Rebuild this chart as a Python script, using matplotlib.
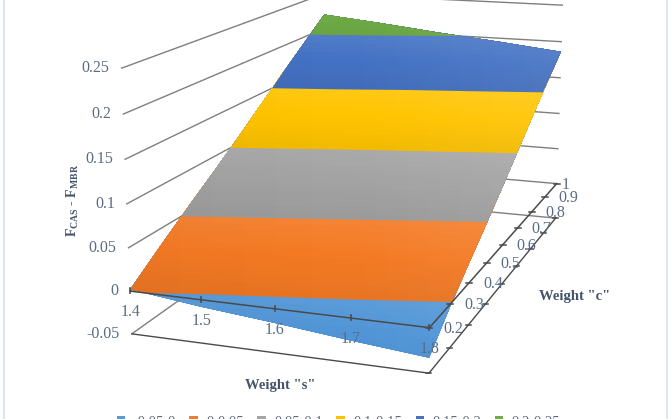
import numpy as np
import matplotlib
matplotlib.use("Agg")
import matplotlib.pyplot as plt
from matplotlib.colors import to_rgb
from matplotlib.patches import Patch, Polygon

# ---- data ----
weight_s = [1.4, 1.5, 1.6, 1.7, 1.8]
weight_c = [0.2, 0.3, 0.4, 0.5, 0.6, 0.7, 0.8, 0.9, 1.0]
z_ticks = [-0.05, 0, 0.05, 0.1, 0.15, 0.2, 0.25]
z_labels = ["-0.05", "0", "0.05", "0.1", "0.15", "0.2", "0.25"]
s_labels = ["1.4", "1.5", "1.6", "1.7", "1.8"]
c_labels = ["0.2", "0.3", "0.4", "0.5", "0.6", "0.7", "0.8", "0.9", "1"]
# rows: weight_c, columns: weight_s
f_diff = [
    [0.002, -0.008, -0.016, -0.025, -0.033],
    [0.030, 0.022, 0.014, 0.006, -0.003],
    [0.057, 0.049, 0.040, 0.032, 0.024],
    [0.083, 0.075, 0.067, 0.058, 0.050],
    [0.110, 0.102, 0.093, 0.085, 0.077],
    [0.138, 0.130, 0.121, 0.113, 0.105],
    [0.166, 0.158, 0.149, 0.141, 0.133],
    [0.193, 0.185, 0.176, 0.168, 0.160],
    [0.220, 0.212, 0.203, 0.195, 0.186],
]
band_names = ["-0.05-0", "0-0.05", "0.05-0.1", "0.1-0.15", "0.15-0.2", "0.2-0.25"]
band_colors = ["#4F94D6", "#F47A24", "#A3A3A3", "#FFC400", "#4472C4", "#70AD47"]
legend_colors = ["#5B9BD5", "#ED7D31", "#A5A5A5", "#FFC000", "#4472C4", "#70AD47"]

# ---- camera: perspective of the 3-D box, solved from where its corners sit ----
camera_world = np.array([
    [1.4, .2, 0], [1.8, .2, 0], [1.8, 1, 0], [1.4, 1, 0],
    [1.4, .2, -.05], [1.8, .2, -.05], [1.8, 1, -.05],
    [1.4, .2, .25], [1.8, 1, .25], [1.4, 1, .25]])
camera_screen = np.array([
    [131, 290], [429, 328], [557, 183], [324, 165],
    [132, 334], [429, 374], [556, 217],
    [121, 68], [562, 6], [325, -7]], float)
A = []
for (a, b, d), (u, v) in zip(camera_world, camera_screen):
    A.append([a, b, d, 1, 0, 0, 0, 0, -u*a, -u*b, -u*d, -u])
    A.append([0, 0, 0, 0, a, b, d, 1, -v*a, -v*b, -v*d, -v])
P = np.linalg.svd(np.array(A))[2][-1].reshape(3, 4)

def project(s, c, z):
    s, c, z = np.broadcast_arrays(np.asarray(s, float), np.asarray(c, float), np.asarray(z, float))
    h = P @ np.stack([s.ravel(), c.ravel(), z.ravel(), np.ones(s.size)])
    return (h[0]/h[2]).reshape(s.shape), (h[1]/h[2]).reshape(s.shape)

plt.rcParams["font.family"] = ["Liberation Serif", "DejaVu Serif"]
plt.rcParams["mathtext.fontset"] = "custom"
plt.rcParams["mathtext.rm"] = "Liberation Serif:bold"
plt.rcParams["mathtext.it"] = "Liberation Serif:bold"
plt.rcParams["mathtext.bf"] = "Liberation Serif:bold"

fig = plt.figure(figsize=(6.71, 4.19), dpi=100)
ax = fig.add_axes([0, 0, 1, 1])

LINE = "#7F7F7F"
AXIS = "#4A4A4A"
TXT = "#5A6B84"
TITLE = "#44546A"

s0, s1, c0, c1 = weight_s[0], weight_s[-1], weight_c[0], weight_c[-1]
z0 = z_ticks[0]

# back walls
for z in z_ticks:
    x, y = project([s0, s0, s1], [c0, c1, c1], z)
    ax.plot(x, y, color=LINE, lw=1.0, zorder=1, solid_joinstyle="miter")
x, y = project([s0, s1, s1], [c0, c0, c1], z0)
ax.plot(x, y, color=AXIS, lw=1.0, zorder=6)

# surface: painted from the lowest level up, each band dark (low) to light (high)
S, C = np.meshgrid(weight_s, weight_c)
Z = np.array(f_diff)
X, Y = project(S, C, Z)
n_sub = 12
top = z_ticks[-1]
for i, col in enumerate(band_colors):
    base = np.array(to_rgb(col))
    lo, hi = z_ticks[i], z_ticks[i + 1]
    for k in range(n_sub):
        t = k / n_sub
        shade = -0.05 + 0.10 * t
        rgb = base + (shade * (1 - base) * 1.6 if shade > 0 else shade * base)
        ax.contourf(X, Y, Z, levels=[lo + (hi - lo) * t, top], colors=[tuple(np.clip(rgb, 0, 1))],
                    zorder=3, antialiased=True)

# soft light across the surface: slightly darker to the left, lighter to the right
gx = np.linspace(-1, 1, 128)[None, :]
glow = np.zeros((1, 128, 4))
glow[..., :3] = (gx > 0)[..., None] * 1.0
glow[..., 3] = np.where(gx > 0, 0.08 * gx, -0.025 * gx)
outline = np.column_stack([
    np.r_[X[0, :], X[1:, -1], X[-1, -2::-1], X[-2:0:-1, 0]],
    np.r_[Y[0, :], Y[1:, -1], Y[-1, -2::-1], Y[-2:0:-1, 0]]])
im = ax.imshow(glow, extent=(X.min(), X.max(), Y.max(), Y.min()), aspect="auto", zorder=4, interpolation="bilinear")
im.set_clip_path(Polygon(outline, closed=True, transform=ax.transData))

ax.set_xlim(0, 671)
ax.set_ylim(419, 0)
ax.axis("off")

# axis lines on the z = 0 plane, in front of the surface
x, y = project([s0, s1, s1], [c0, c0, c1], 0)
ax.plot(x, y, color=AXIS, lw=1.1, zorder=6)

# ticks
for s in weight_s:
    x, y = project(s, c0, 0)
    ax.plot([x, x], [y - 3, y + 2], color=AXIS, lw=1.2, zorder=6)
for c in weight_c:
    x, y = project(s1, c, 0)
    ax.plot([x - 3, x + 3], [y, y], color=AXIS, lw=1.1, zorder=6)
    x, y = project(s1, c, z0)
    ax.plot([x - 2.5, x + 2.5], [y, y], color=AXIS, lw=1.1, zorder=6)

# tick labels
TICK_FS = 11.5
for z, lab in zip(z_ticks, z_labels):
    x, y = project(s0, c0, z)
    ax.text(x - 12, y, lab, ha="right", va="center", fontsize=TICK_FS, color=TXT, zorder=7)
for s, lab in zip(weight_s, s_labels):
    x, y = project(s, c0, 0)
    ax.text(x, y + 21, lab, ha="center", va="center", fontsize=TICK_FS, color=TXT, zorder=7)
for c, lab in zip(weight_c, c_labels):
    x, y = project(s1, c, 0)
    ax.text(x + (5 if lab == "1" else 14), y + 1, lab, ha="left", va="center", fontsize=TICK_FS, color=TXT, zorder=7)

# axis titles
ax.text(280, 385, 'Weight "s"', ha="center", va="center", fontsize=10.5, fontweight="bold", color=TITLE)
ax.text(575, 296, 'Weight "c"', ha="center", va="center", fontsize=10.5, fontweight="bold", color=TITLE)
ax.text(73, 200, r"$\mathrm{F_{CAS}}$ - $\mathrm{F_{MBR}}$", rotation=90, ha="center", va="center",
        fontsize=10, fontweight="bold", color=TITLE)

# legend (cut by the lower image edge, as in the picture)
handles = [Patch(facecolor=c, edgecolor="none") for c in legend_colors]
ax.legend(handles, band_names, loc="center", bbox_to_anchor=(338.5, 422), bbox_transform=ax.transData,
          ncol=6, frameon=False, fontsize=10.5, labelcolor=TXT, handlelength=0.58, handleheight=0.58,
          handletextpad=0.6, columnspacing=0.9, borderpad=0, borderaxespad=0)

# chart frame
for fx in (3.5, 667):
    ax.plot([fx, fx], [0, 419], color="#DCE6F1", lw=1.5, zorder=0)

fig.savefig("out.png", dpi=100, facecolor="white")
